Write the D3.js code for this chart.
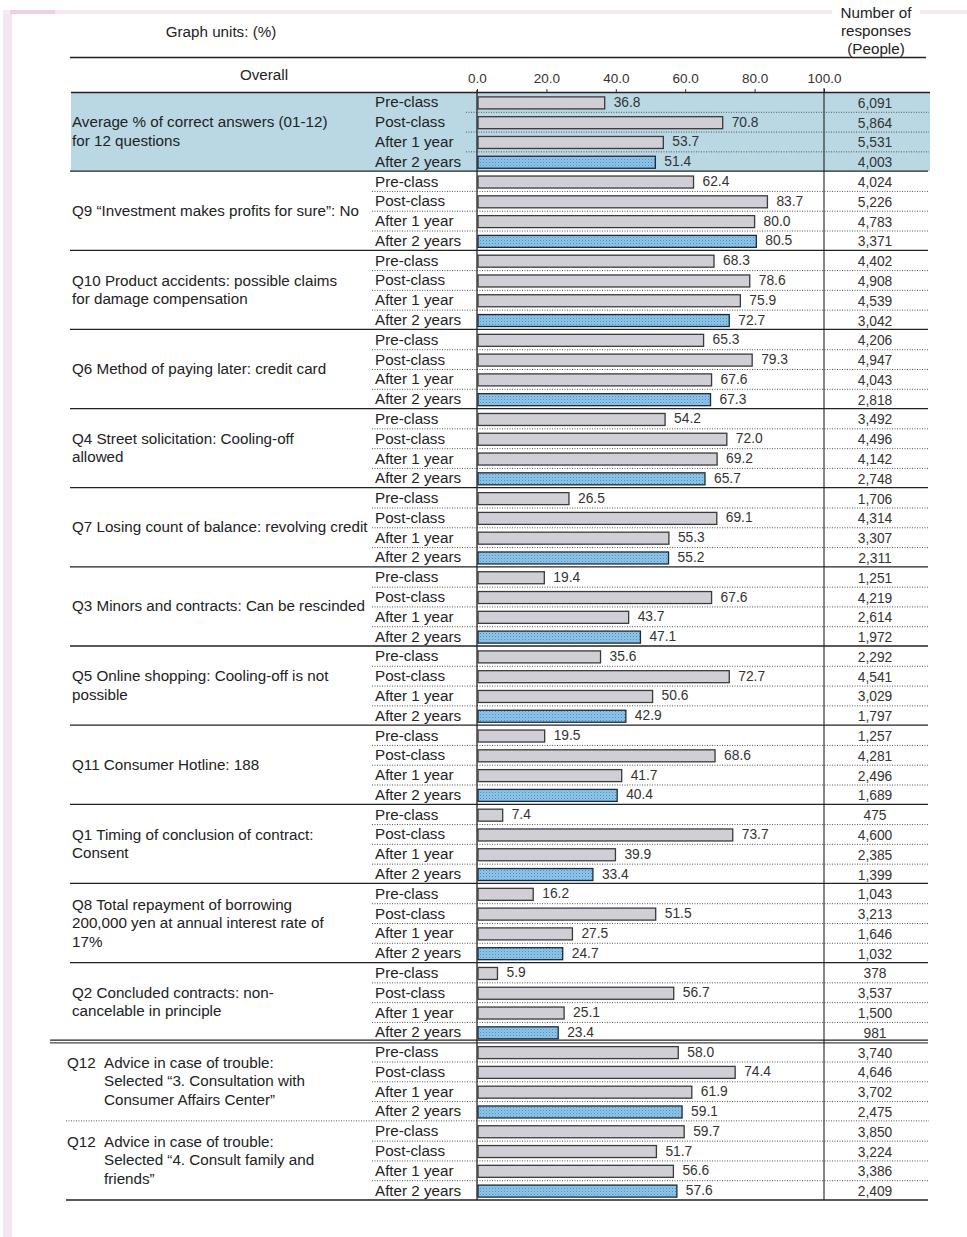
<!DOCTYPE html>
<html>
<head>
<meta charset="utf-8">
<script src="https://cdn.jsdelivr.net/npm/d3@7"></script>
<style>
  html, body { margin: 0; padding: 0; background: #fff; }
  svg { display: block; font-family: "Liberation Sans", Arial, sans-serif; }
</style>
</head>
<body>
<svg id="chart"></svg>
<script>
// chart data
const groupLabels = [
  ["Average % of correct answers (01-12)", "for 12 questions"],
  ["Q9 \u201cInvestment makes profits for sure\u201d: No"],
  ["Q10 Product accidents: possible claims", "for damage compensation"],
  ["Q6 Method of paying later: credit card"],
  ["Q4 Street solicitation: Cooling-off", "allowed"],
  ["Q7 Losing count of balance: revolving credit"],
  ["Q3 Minors and contracts: Can be rescinded"],
  ["Q5 Online shopping: Cooling-off is not", "possible"],
  ["Q11 Consumer  Hotline: 188"],
  ["Q1 Timing of conclusion of contract:", "Consent"],
  ["Q8 Total repayment of borrowing", "200,000 yen at annual interest rate of", "17%"],
  ["Q2 Concluded contracts: non-", "cancelable in principle"],
  ["Q12", "Advice in case of trouble:", "Selected \u201c3. Consultation with", "Consumer Affairs Center\u201d"],
  ["Q12", "Advice in case of trouble:", "Selected \u201c4. Consult family and", "friends\u201d"]
];
const phases = ["Pre-class", "Post-class", "After 1 year", "After 2 years"];
const values = [
  [36.8, 70.8, 53.7, 51.4],
  [62.4, 83.7, 80.0, 80.5],
  [68.3, 78.6, 75.9, 72.7],
  [65.3, 79.3, 67.6, 67.3],
  [54.2, 72.0, 69.2, 65.7],
  [26.5, 69.1, 55.3, 55.2],
  [19.4, 67.6, 43.7, 47.1],
  [35.6, 72.7, 50.6, 42.9],
  [19.5, 68.6, 41.7, 40.4],
  [7.4, 73.7, 39.9, 33.4],
  [16.2, 51.5, 27.5, 24.7],
  [5.9, 56.7, 25.1, 23.4],
  [58.0, 74.4, 61.9, 59.1],
  [59.7, 51.7, 56.6, 57.6]
];
const counts = [
  [6091, 5864, 5531, 4003],
  [4024, 5226, 4783, 3371],
  [4402, 4908, 4539, 3042],
  [4206, 4947, 4043, 2818],
  [3492, 4496, 4142, 2748],
  [1706, 4314, 3307, 2311],
  [1251, 4219, 2614, 1972],
  [2292, 4541, 3029, 1797],
  [1257, 4281, 2496, 1689],
  [475, 4600, 2385, 1399],
  [1043, 3213, 1646, 1032],
  [378, 3537, 1500, 981],
  [3740, 4646, 3702, 2475],
  [3850, 3224, 3386, 2409]
];
const tickValues = [0, 20, 40, 60, 80, 100];

const W = 967, H = 1237;
const svg = d3.select("#chart").attr("width", W).attr("height", H);

// flatten into rows
const rows = [];
values.forEach((vals, g) => {
  vals.forEach((v, p) => rows.push({ g, p, v, n: counts[g][p], phase: phases[p] }));
});

const x = d3.scaleLinear().domain([0, 100]).range([477, 824]);
const y = d3.scaleBand().domain(d3.range(rows.length)).range([92, 1200]);
const rowH = y.bandwidth();
const groupTop = g => y(g * 4);
const groupBottom = g => y(g * 4 + 3) + rowH;

const labelSize = 15.2, numSize = 13.8;

// bar pattern for "after 2 years"
const defs = svg.append("defs");
const pat = defs.append("pattern").attr("id", "dots")
  .attr("width", 3).attr("height", 3).attr("patternUnits", "userSpaceOnUse");
pat.append("rect").attr("width", 3).attr("height", 3).attr("fill", "#8ec4e8");
pat.append("rect").attr("width", 1).attr("height", 1).attr("fill", "#4f8fc0");
pat.append("rect").attr("x", 1.5).attr("y", 1.5).attr("width", 1).attr("height", 1).attr("fill", "#6aa8d6");

// faint page frame
svg.append("rect").attr("x", 3).attr("y", 12).attr("width", 9).attr("height", H - 12).attr("fill", "#f4e6ef");
svg.append("rect").attr("x", 3).attr("y", 10).attr("width", W - 3).attr("height", 4).attr("fill", "#f6e9f1");
svg.append("rect").attr("x", 10).attr("y", 10).attr("width", 45).attr("height", 4).attr("fill", "#ead2e0");

// shaded "overall average" block
svg.append("rect")
  .attr("x", 71).attr("y", groupTop(0))
  .attr("width", 930 - 71).attr("height", groupBottom(0) - groupTop(0))
  .attr("fill", "#b9d8e3");

// header
const hdr = svg.append("g").attr("font-size", labelSize).attr("fill", "#222");
hdr.append("text").attr("x", 221).attr("y", 37).attr("text-anchor", "middle").text("Graph units: (%)");
hdr.append("rect").attr("x", 832).attr("y", 4).attr("width", 88).attr("height", 16).attr("fill", "#fff");
["Number of", "responses", "(People)"].forEach((t, i) => {
  hdr.append("text").attr("x", 876).attr("y", 18 + i * 18).attr("text-anchor", "middle").text(t);
});
hdr.append("text").attr("x", 264).attr("y", 80).attr("text-anchor", "middle").text("Overall");

svg.append("line").attr("x1", 70).attr("x2", 926).attr("y1", 57.5).attr("y2", 57.5)
  .attr("stroke", "#222").attr("stroke-width", 1.3);
svg.append("line").attr("x1", 71).attr("x2", 930).attr("y1", 92.5).attr("y2", 92.5)
  .attr("stroke", "#222").attr("stroke-width", 1.3);

// axis ticks
const axis = svg.append("g").attr("transform", "translate(0,92)")
  .call(d3.axisTop(x).tickValues(tickValues).tickSize(3).tickPadding(6).tickFormat(d3.format(".1f")));
axis.select(".domain").remove();
axis.selectAll("line").attr("stroke", "#333");
axis.selectAll("text").attr("font-size", 13.5).attr("fill", "#333")
  .attr("font-family", "\"Liberation Sans\", Arial, sans-serif");

// dotted row separators
const sepRows = rows.filter(r => r.p < 3);
svg.append("g").selectAll("line").data(sepRows).join("line")
  .attr("x1", d => d.g === 0 ? 466 : 372).attr("x2", 929)
  .attr("y1", d => y(d.g * 4 + d.p) + rowH + 0.5)
  .attr("y2", d => y(d.g * 4 + d.p) + rowH + 0.5)
  .attr("stroke", "#555").attr("stroke-width", 1).attr("stroke-dasharray", "1,1.5");

// group separators
for (let g = 0; g < groupLabels.length; g++) {
  const yy = groupBottom(g);
  if (g === 11) {
    svg.append("line").attr("x1", 50).attr("x2", 928).attr("y1", yy - 1.5).attr("y2", yy - 1.5)
      .attr("stroke", "#222").attr("stroke-width", 1.3);
    svg.append("line").attr("x1", 50).attr("x2", 928).attr("y1", yy + 1.2).attr("y2", yy + 1.2)
      .attr("stroke", "#444").attr("stroke-width", 1.3);
  } else if (g === 12) {
    svg.append("line").attr("x1", 66).attr("x2", 929).attr("y1", yy).attr("y2", yy)
      .attr("stroke", "#555").attr("stroke-width", 1).attr("stroke-dasharray", "1,1.5");
  } else {
    svg.append("line").attr("x1", g === 13 ? 66 : 70).attr("x2", 928).attr("y1", yy).attr("y2", yy)
      .attr("stroke", "#222").attr("stroke-width", 1.3);
  }
}

// vertical lines at 0 and 100
svg.append("line").attr("x1", x(0)).attr("x2", x(0)).attr("y1", 90).attr("y2", 1200)
  .attr("stroke", "#222").attr("stroke-width", 1.3);
svg.append("line").attr("x1", x(100)).attr("x2", x(100)).attr("y1", 88).attr("y2", 1200)
  .attr("stroke", "#222").attr("stroke-width", 1.1);

// group labels
const gl = svg.append("g").attr("font-size", labelSize).attr("fill", "#222");
groupLabels.forEach((lines, g) => {
  const mid = (groupTop(g) + groupBottom(g)) / 2;
  const isQ12 = lines[0] === "Q12";
  const body = isQ12 ? lines.slice(1) : lines;
  const lh = 18.5;
  const y0 = mid - (body.length - 1) * lh / 2 + 5;
  body.forEach((t, i) => {
    gl.append("text").attr("x", isQ12 ? 104 : 72).attr("y", y0 + i * lh).text(t);
  });
  if (isQ12) gl.append("text").attr("x", 67).attr("y", y0).text("Q12");
});

// phase labels
svg.append("g").selectAll("text").data(rows).join("text")
  .attr("x", 375).attr("y", (d, i) => y(i) + rowH / 2 + 5.5)
  .attr("font-size", labelSize).attr("fill", "#222")
  .text(d => d.phase);

// bars
const barH = 12;
svg.append("g").selectAll("rect").data(rows).join("rect")
  .attr("x", x(0) + 1)
  .attr("y", (d, i) => y(i) + rowH / 2 - barH / 2 + 1)
  .attr("width", d => x(d.v) - x(0) - 1)
  .attr("height", barH)
  .attr("fill", d => d.p === 3 ? "url(#dots)" : "#cfcfd5")
  .attr("stroke", d => d.p === 3 ? "#1e2a38" : "#3a3a3a")
  .attr("stroke-width", 1.3);

// value labels
svg.append("g").selectAll("text").data(rows).join("text")
  .attr("x", d => x(d.v) + 9)
  .attr("y", (d, i) => y(i) + rowH / 2 + 5)
  .attr("font-size", numSize).attr("fill", "#333")
  .text(d => d3.format(".1f")(d.v));

// response counts
svg.append("g").selectAll("text").data(rows).join("text")
  .attr("x", 875)
  .attr("y", (d, i) => y(i) + rowH / 2 + 6)
  .attr("text-anchor", "middle")
  .attr("font-size", numSize).attr("fill", "#333")
  .text(d => d3.format(",")(d.n));
</script>
</body>
</html>
